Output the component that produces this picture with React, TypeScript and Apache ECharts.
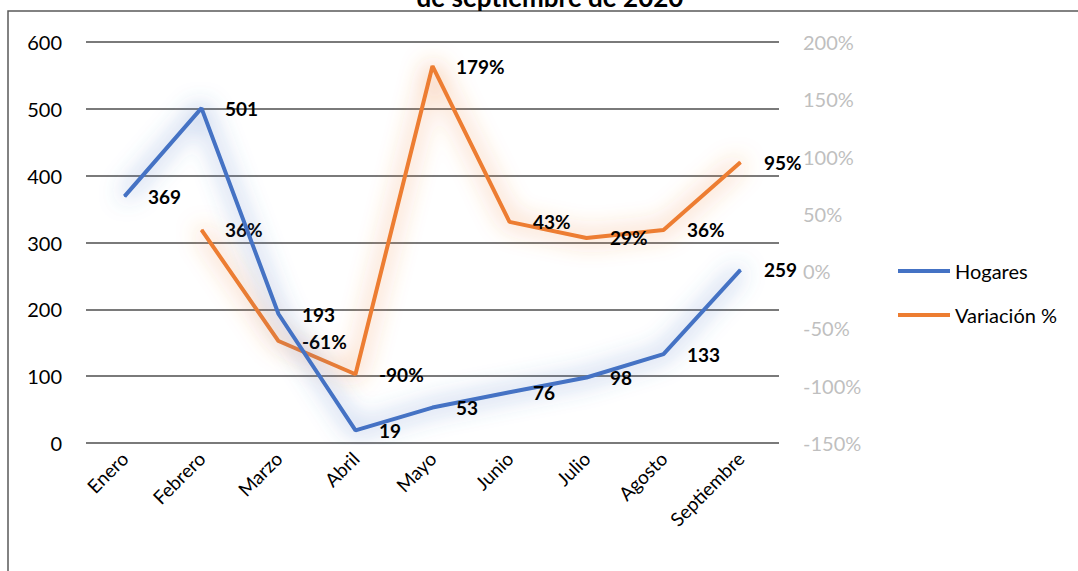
import React, { useEffect, useRef } from "react";
import * as echarts from "echarts";

const categories = ["Enero", "Febrero", "Marzo", "Abril", "Mayo", "Junio", "Julio", "Agosto", "Septiembre"];
const hogares = [369, 501, 193, 19, 53, 76, 98, 133, 259];
const variacion = [null, 0.36, -0.61, -0.9, 1.79, 0.43, 0.29, 0.36, 0.95];
const leftTicks = { min: 0, max: 600, interval: 100 };
const rightTicks = { min: -1.5, max: 2, interval: 0.5 };
const titleText = "de septiembre de 2020";

const FONT = "Lato, 'Noto Sans', sans-serif";

export default function App() {
  const ref = useRef<HTMLDivElement>(null);
  useEffect(() => {
    if (!ref.current) return;
    const chart = echarts.init(ref.current, null, { renderer: "svg" });
    const labelStyle = {
      show: true,
      position: "right" as const,
      distance: 23,
      fontFamily: FONT,
      fontWeight: "bold" as const,
      fontSize: 19,
      color: "#000",
    };
    chart.setOption({
      animation: false,
      textStyle: { fontFamily: FONT },
      grid: { left: 86, right: 299, top: 42, bottom: 128, containLabel: false },
      graphic: [
        {
          type: "rect",
          shape: { x: 8, y: 11, width: 1200, height: 700 },
          style: { fill: "none", stroke: "#595959", lineWidth: 1.5 },
          silent: true,
          z: -10,
        },
        {
          type: "text",
          x: 550,
          y: -16,
          style: {
            text: titleText,
            fontFamily: FONT,
            fontWeight: "bold",
            fontSize: 26,
            fill: "#000",
            align: "center",
            verticalAlign: "top",
          },
        },
      ],
      legend: {
        orient: "vertical",
        left: 893,
        top: 256,
        icon: "rect",
        itemWidth: 52,
        itemHeight: 4,
        itemGap: 24,
        textStyle: { fontFamily: FONT, fontSize: 20, color: "#000" },
        data: ["Hogares", "Variación %"],
      },
      xAxis: {
        type: "category",
        data: categories,
        boundaryGap: true,
        axisLine: { show: false },
        axisTick: { show: false },
        axisLabel: { rotate: 45, fontFamily: FONT, fontSize: 19, color: "#000", margin: 12, interval: 0 },
      },
      yAxis: [
        {
          type: "value",
          ...leftTicks,
          axisLine: { show: false },
          axisTick: { show: false },
          splitLine: { lineStyle: { color: "#7a7a7a", width: 1.8 } },
          axisLabel: { fontFamily: FONT, fontSize: 20, color: "#000", margin: 24 },
        },
        {
          type: "value",
          ...rightTicks,
          position: "right",
          axisLine: { show: false },
          axisTick: { show: false },
          splitLine: { show: false },
          axisLabel: {
            fontFamily: FONT,
            fontSize: 20,
            color: "#bfbfbf",
            margin: 24,
            formatter: (v: number) => `${Math.round(v * 100)}%`,
          },
        },
      ],
      series: [
        {
          name: "Hogares",
          type: "line",
          data: hogares,
          yAxisIndex: 0,
          symbol: "circle",
          symbolSize: 1,
          showSymbol: true,
          itemStyle: { color: "#4472c4" },
          color: "#4472c4",
          lineStyle: {
            color: "#4472c4",
            width: 4,
            shadowColor: "rgba(68,114,196,1)",
            shadowBlur: 24,
          },
          label: { ...labelStyle, formatter: (p: any) => `${p.value}` },
          z: 3,
        },
        {
          name: "Variación %",
          type: "line",
          data: variacion,
          yAxisIndex: 1,
          symbol: "circle",
          symbolSize: 1,
          showSymbol: true,
          connectNulls: false,
          itemStyle: { color: "#ed7d31" },
          color: "#ed7d31",
          lineStyle: {
            color: "#ed7d31",
            width: 4,
            shadowColor: "rgba(237,125,49,1)",
            shadowBlur: 24,
          },
          label: {
            ...labelStyle,
            formatter: (p: any) => (p.value == null ? "" : `${Math.round(p.value * 100)}%`),
          },
          z: 2,
        },
      ],
    });
    return () => chart.dispose();
  }, []);
  return <div ref={ref} style={{ width: 1078, height: 571, position: "absolute", left: 0, top: 0 }} />;
}
